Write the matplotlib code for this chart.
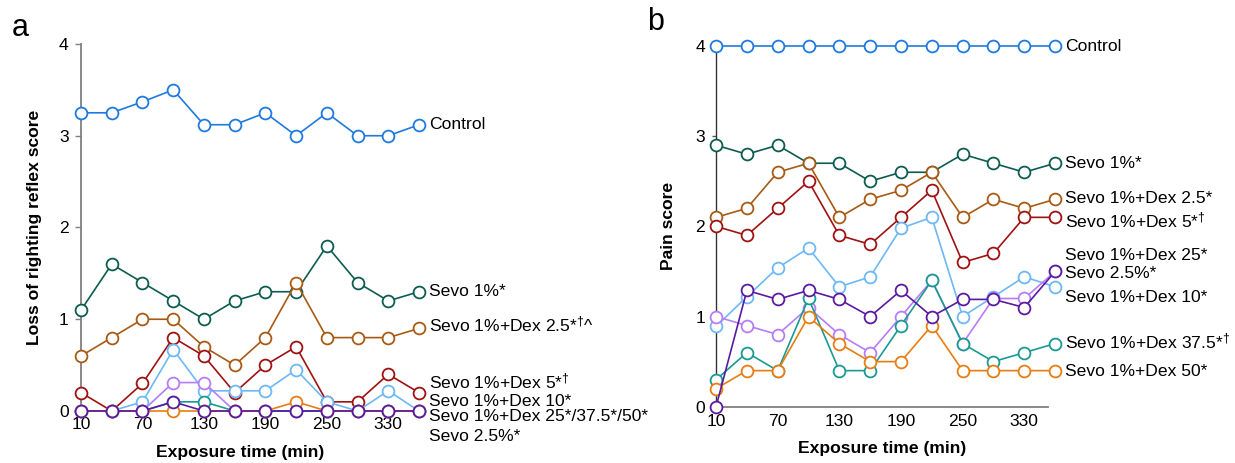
import matplotlib
matplotlib.use("Agg")
import matplotlib.pyplot as plt

plt.rcParams['font.family'] = ['Liberation Sans', 'DejaVu Sans']
plt.rcParams['mathtext.fontset'] = 'custom'
plt.rcParams['mathtext.rm'] = 'Liberation Sans'
plt.rcParams['mathtext.it'] = 'Liberation Sans:italic'
plt.rcParams['mathtext.bf'] = 'Liberation Sans:bold'

# time points (min); categorical positions
times = [10, 40, 70, 100, 130, 160, 190, 220, 250, 280, 310, 340]
tick_idx = [0, 2, 4, 6, 8, 10]
tick_labels = ["10", "70", "130", "190", "250", "330"]

colors = {
    "control": "#1f7ae0",
    "sevo1": "#0d5c50",
    "dex2.5": "#a85a14",
    "dex5": "#a01212",
    "dex10": "#6db8f5",
    "dex25": "#b77cf7",
    "dex37.5": "#199a92",
    "dex50": "#e87d12",
    "sevo2.5": "#5a1aa2",
}

# Panel a: loss of righting reflex score
lrr_control = [3.25, 3.25, 3.37, 3.5, 3.12, 3.12, 3.25, 3.0, 3.25, 3.0, 3.0, 3.12]
lrr_sevo1 = [1.1, 1.6, 1.4, 1.2, 1.0, 1.2, 1.3, 1.3, 1.8, 1.4, 1.2, 1.3]
lrr_dex2_5 = [0.6, 0.8, 1.0, 1.0, 0.7, 0.5, 0.8, 1.4, 0.8, 0.8, 0.8, 0.9]
lrr_dex5 = [0.2, 0.0, 0.3, 0.8, 0.6, 0.2, 0.5, 0.7, 0.1, 0.1, 0.4, 0.2]
lrr_dex10 = [0.0, 0.0, 0.1, 0.67, 0.22, 0.22, 0.22, 0.45, 0.1, 0.0, 0.22, 0.0]
lrr_dex25 = [0.0, 0.0, 0.0, 0.31, 0.31, 0.0, 0.0, 0.0, 0.0, 0.0, 0.0, 0.0]
lrr_dex375 = [0.0, 0.0, 0.0, 0.1, 0.1, 0.0, 0.0, 0.0, 0.0, 0.0, 0.0, 0.0]
lrr_dex50 = [0.0, 0.0, 0.0, 0.0, 0.0, 0.0, 0.0, 0.1, 0.0, 0.0, 0.0, 0.0]
lrr_sevo25 = [0.0, 0.0, 0.0, 0.1, 0.0, 0.0, 0.0, 0.0, 0.0, 0.0, 0.0, 0.0]

# Panel b: pain score
pain_control = [4.0] * 12
pain_sevo1 = [2.9, 2.8, 2.9, 2.7, 2.7, 2.5, 2.6, 2.6, 2.8, 2.7, 2.6, 2.7]
pain_dex2_5 = [2.1, 2.2, 2.6, 2.7, 2.1, 2.3, 2.4, 2.6, 2.1, 2.3, 2.2, 2.3]
pain_dex5 = [2.0, 1.9, 2.2, 2.5, 1.9, 1.8, 2.1, 2.4, 1.6, 1.7, 2.1, 2.1]
pain_dex10 = [0.89, 1.22, 1.54, 1.76, 1.33, 1.44, 1.98, 2.1, 1.0, 1.22, 1.44, 1.33]
pain_dex25 = [1.0, 0.9, 0.8, 1.1, 0.8, 0.6, 1.0, 1.4, 0.7, 1.2, 1.2, 1.5]
pain_dex375 = [0.3, 0.6, 0.4, 1.2, 0.4, 0.4, 0.9, 1.4, 0.7, 0.5, 0.6, 0.7]
pain_dex50 = [0.2, 0.4, 0.4, 1.0, 0.7, 0.5, 0.5, 0.9, 0.4, 0.4, 0.4, 0.4]
pain_sevo25 = [0.0, 1.29, 1.19, 1.29, 1.19, 1.0, 1.29, 1.0, 1.19, 1.19, 1.1, 1.5]

series_a = [
    ("control", lrr_control), ("sevo1", lrr_sevo1), ("dex2.5", lrr_dex2_5),
    ("dex5", lrr_dex5), ("dex10", lrr_dex10), ("dex25", lrr_dex25),
    ("dex37.5", lrr_dex375), ("dex50", lrr_dex50), ("sevo2.5", lrr_sevo25),
]
series_b = [
    ("control", pain_control), ("sevo1", pain_sevo1), ("dex2.5", pain_dex2_5),
    ("dex5", pain_dex5), ("dex10", pain_dex10), ("dex25", pain_dex25),
    ("dex37.5", pain_dex375), ("dex50", pain_dex50), ("sevo2.5", pain_sevo25),
]

labels_a = [
    ("Control", 3.12),
    ("Sevo 1%*", 1.30),
    (r"Sevo 1%+Dex 2.5*$^{\mathrm{†}}$^", 0.94),
    (r"Sevo 1%+Dex 5*$^{\mathrm{†}}$", 0.32),
    ("Sevo 1%+Dex 10*", 0.10),
    ("Sevo 1%+Dex 25*/37.5*/50*", -0.065),
    ("Sevo 2.5%*", -0.28),
]
labels_b = [
    ("Control", 4.0),
    ("Sevo 1%*", 2.70),
    ("Sevo 1%+Dex 2.5*", 2.31),
    (r"Sevo 1%+Dex 5*$^{\mathrm{†}}$", 2.07),
    ("Sevo 1%+Dex 25*", 1.68),
    ("Sevo 2.5%*", 1.48),
    ("Sevo 1%+Dex 10*", 1.21),
    (r"Sevo 1%+Dex 37.5*$^{\mathrm{†}}$", 0.72),
    ("Sevo 1%+Dex 50*", 0.385),
]

FS = 12.6
fig = plt.figure(figsize=(12.35, 4.63), dpi=100)
ax_a = fig.add_axes([0.0656, 0.1123, 0.2737, 0.7927])
ax_b = fig.add_axes([0.5798, 0.1216, 0.2688, 0.7790])

x = list(range(len(times)))

def draw(ax, series):
    for key, vals in series:
        ax.plot(x, vals, color=colors[key], lw=1.2, marker='o', ms=8.5,
                mfc='white', mec=colors[key], mew=1.3, clip_on=False, zorder=3)

draw(ax_a, series_a)
draw(ax_b, series_b)

# panel a axes
ax_a.set_xlim(0, 11)
ax_a.set_ylim(0, 4)
for s in ['top', 'right', 'bottom']:
    ax_a.spines[s].set_visible(False)
ax_a.spines['left'].set_color('#808080')
ax_a.spines['left'].set_linewidth(1.3)
ax_a.set_yticks([0, 1, 2, 3, 4])
ax_a.tick_params(axis='y', length=4, width=1, color='#808080', labelsize=FS, pad=5)
ax_a.set_xticks(tick_idx)
ax_a.set_xticklabels(tick_labels)
ax_a.tick_params(axis='x', length=0, labelsize=FS, pad=4)
ax_a.set_ylabel("Loss of righting reflex score", fontsize=FS, fontweight='bold', labelpad=12)
for txt, yy in labels_a:
    ax_a.text(11.33, yy, txt, fontsize=FS, va='center', ha='left', clip_on=False)

# panel b axes
ax_b.set_xlim(0, 10.77)
ax_b.set_ylim(0, 4)
for s in ['top', 'right']:
    ax_b.spines[s].set_visible(False)
ax_b.spines['left'].set_color('#333333')
ax_b.spines['left'].set_linewidth(1.0)
ax_b.spines['bottom'].set_color('#808080')
ax_b.spines['bottom'].set_linewidth(1.3)
ax_b.set_yticks([0, 1, 2, 3, 4])
ax_b.tick_params(axis='y', length=3, width=1, color='#555555', labelsize=FS, pad=5)
ax_b.set_xticks(tick_idx)
ax_b.set_xticklabels(tick_labels)
ax_b.tick_params(axis='x', length=0, labelsize=FS, pad=5)
ax_b.set_ylabel("Pain score", fontsize=FS, fontweight='bold', labelpad=14)
for txt, yy in labels_b:
    ax_b.text(11.33, yy, txt, fontsize=FS, va='center', ha='left', clip_on=False)

fig.text(240 / 1235, 1 - 452 / 463, "Exposure time (min)", fontsize=FS,
         fontweight='bold', ha='center', va='center')
fig.text(882 / 1235, 1 - 448 / 463, "Exposure time (min)", fontsize=FS,
         fontweight='bold', ha='center', va='center')

fig.text(12 / 1235, 1 - 28 / 463, "a", fontsize=22, ha='left', va='center')
fig.text(647 / 1235, 1 - 22 / 463, "b", fontsize=22, ha='left', va='center')

fig.savefig("out.png", dpi=100)
